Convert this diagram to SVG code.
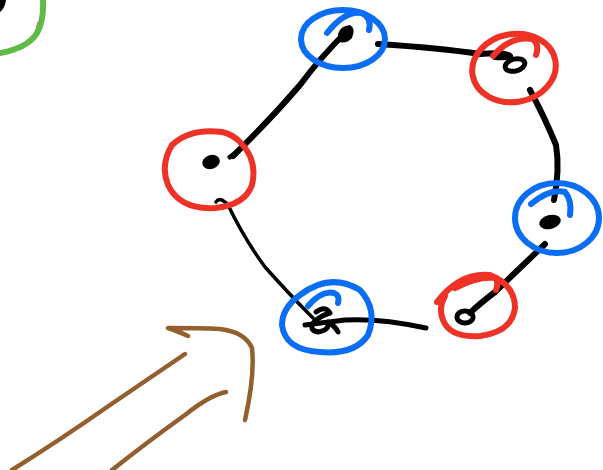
<svg xmlns="http://www.w3.org/2000/svg" width="603" height="470" viewBox="0 0 603 470">
<style>
.blk{fill:none;stroke:#000;stroke-linecap:round;stroke-linejoin:round}
.blue{fill:none;stroke:#0a6ef5;stroke-width:6;stroke-linecap:round}
.red{fill:none;stroke:#ee3326;stroke-width:6;stroke-linecap:round}
.dot{fill:#000}
.brown{fill:none;stroke:#935f2e;stroke-width:4.5;stroke-linecap:round;stroke-linejoin:round}
</style>
<rect width="603" height="470" fill="#fff"/>
<g id="corner">
<path d="M0,0 L6,0 Q5,8 0,12 Z" fill="#000"/>
<path d="M38,21 L40,27 L36,27 Z" fill="#ee3326"/>
<path class="blue" style="stroke:#5fbb46" d="M43,0 Q44,20 37,33 Q28,48 0,53"/>
</g>
<g id="connectors">
<path class="blk" stroke-width="6" d="M346,32 Q320,58 300,85 Q270,120 233,156"/>
<path class="blk" stroke-width="6" d="M378,44 Q440,48 480,54 Q505,52 510,56 Q505,58 495,57"/>
<path class="blk" stroke-width="6" d="M530,90 Q545,118 556,145 Q560,170 554,200"/>
<path class="blk" stroke-width="6" d="M545,244 Q520,268 495,292 Q478,305 470,313"/>
<path class="blk" stroke-width="5" d="M426,328 Q380,318 345,320 Q320,323 305,325"/>
<path class="blk" stroke-width="3.5" d="M313,318 Q290,295 265,267 Q245,240 228,205 Q220,196 216,202"/>
</g>
<g id="n1">
<ellipse class="blue" cx="343" cy="39" rx="42" ry="29"/>
<path class="blue" d="M327,33 Q345,10 362,13 Q372,18 369,30"/>
<path class="dot" d="M338,34 Q340,26 350,25 Q356,28 352,38 Q346,44 340,42 Z"/>
</g>
<g id="n2">
<ellipse class="red" cx="514" cy="68" rx="42" ry="34" transform="rotate(-10 514 68)"/>
<path class="red" d="M493,56 Q510,36 532,39 Q540,44 536,55"/>
<ellipse cx="515" cy="65" rx="10" ry="6" fill="none" stroke="#000" stroke-width="5" transform="rotate(-15 515 65)"/>
</g>
<g id="n3">
<path class="red" d="M222,132 Q190,128 172,145 Q160,165 168,185 Q180,210 215,208 Q245,205 252,185 Q258,160 240,142 Q232,134 222,132 Z"/>
<ellipse class="dot" cx="211" cy="162" rx="9" ry="7" transform="rotate(-20 211 162)"/>
<path class="blk" stroke-width="5" d="M230,157 L236,153"/>
</g>
<g id="n4">
<ellipse class="blue" cx="557" cy="218" rx="42" ry="35"/>
<path class="blue" d="M531,204 Q550,188 565,192 Q572,200 570,215"/>
<ellipse class="dot" cx="550" cy="222" rx="11" ry="7" transform="rotate(-15 550 222)"/>
</g>
<g id="n5">
<path class="blue" d="M300,295 Q330,272 360,290 Q378,310 368,335 Q355,355 320,352 Q285,350 282,325 Q282,308 300,295 Z"/>
<path class="blue" d="M308,306 Q322,290 334,293 Q340,295 338,303"/>
<path class="blk" stroke-width="5" d="M316,312 Q325,305 330,313 Q320,316 314,322 Q308,330 318,332 Q330,330 328,322 Q335,326 338,332"/>
</g>
<g id="n6">
<path class="red" d="M437,302 Q460,272 490,275 Q515,285 515,308 Q512,332 480,336 Q450,338 443,320 Q438,308 445,296"/>
<path class="red" d="M455,288 Q478,276 495,278 Q499,282 496,290"/>
<ellipse cx="465" cy="317" rx="8" ry="6" fill="none" stroke="#000" stroke-width="5"/>
</g>
<g id="arrow">
<path class="brown" d="M12,470 Q60,440 110,405 Q150,378 185,354"/>
<path class="brown" d="M112,470 Q150,440 185,415 Q210,395 226,392"/>
<path class="brown" d="M188,336 Q175,330 168,328 Q200,328 220,329 Q245,332 252,348 Q255,375 245,420"/>
</g>
</svg>
